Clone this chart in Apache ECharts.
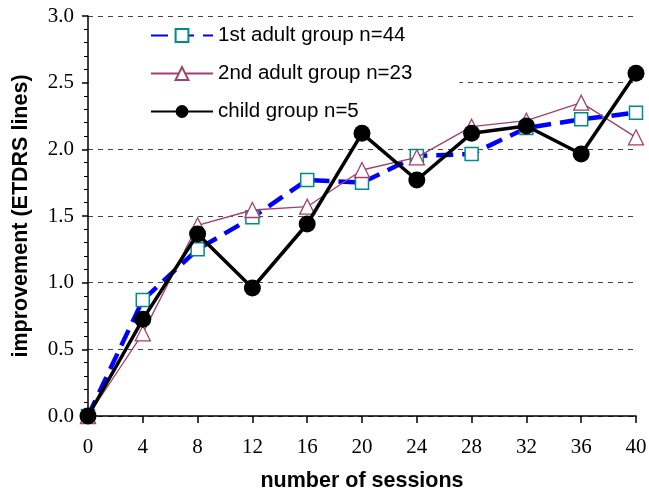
<!DOCTYPE html>
<html>
<head>
<meta charset="utf-8">
<script src="https://cdn.jsdelivr.net/npm/echarts@6/dist/echarts.min.js"></script>
<style>html,body{margin:0;padding:0;background:#fff}#c{width:649px;height:488px}</style>
</head>
<body>
<div id="c"></div>
<script>
var sessions = [0, 4, 8, 12, 16, 20, 24, 28, 32, 36, 40];
var adult1 = [0, 0.87, 1.25, 1.49, 1.77, 1.75, 1.95, 1.965, 2.16, 2.225, 2.275];
var adult2 = [0, 0.62, 1.43, 1.545, 1.57, 1.845, 1.94, 2.17, 2.215, 2.35, 2.09];
var child = [0, 0.725, 1.365, 0.96, 1.44, 2.12, 1.77, 2.12, 2.175, 1.965, 2.57];
var names = ['1st adult group n=44', '2nd adult group n=23', 'child group n=5'];

function pairs(arr) { return sessions.map(function (s, i) { return [s, arr[i]]; }); }

var chart = echarts.init(document.getElementById('c'));
chart.setOption({
  animation: false,
  backgroundColor: '#fff',
  grid: { left: 88, right: 13, top: 16, bottom: 72, containLabel: false, outerBoundsMode: 'none' },
  legend: {
    orient: 'vertical', left: 89, top: 17,
    padding: [7, 47, 8, 61],
    backgroundColor: '#fff',
    itemWidth: 62, itemHeight: 16, itemGap: 15,
    textStyle: { fontFamily: 'Liberation Sans', fontSize: 20.5, color: '#000', lineHeight: 23 },
    data: names
  },
  xAxis: {
    type: 'value', min: 0, max: 40, interval: 4,
    name: 'number of sessions', nameLocation: 'middle', nameGap: 54,
    nameTextStyle: { fontFamily: 'Liberation Sans', fontSize: 21.5, fontWeight: 'bold', color: '#000' },
    axisLine: { show: true, onZero: false, lineStyle: { color: '#000', width: 1.5 } },
    axisTick: { show: true, length: 7, lineStyle: { color: '#000', width: 1.5 } },
    axisLabel: { fontFamily: 'Liberation Serif', fontSize: 21, color: '#000', margin: 21 },
    splitLine: { show: false }
  },
  yAxis: {
    type: 'value', min: 0, max: 3, interval: 0.5,
    name: 'improvement (ETDRS lines)', nameLocation: 'middle', nameGap: 56,
    nameTextStyle: { fontFamily: 'Liberation Sans', fontSize: 21.5, fontWeight: 'bold', color: '#000' },
    axisLine: { show: true, lineStyle: { color: '#000', width: 1.5 } },
    axisTick: { show: true, length: 6, lineStyle: { color: '#000', width: 1.5 } },
    minorTick: { show: true, splitNumber: 5, length: 4, lineStyle: { color: '#000', width: 1 } },
    axisLabel: { fontFamily: 'Liberation Serif', fontSize: 21, color: '#000', margin: 14,
      formatter: function (v) { return v.toFixed(1); } },
    splitLine: { show: true, lineStyle: { color: '#444', width: 1, type: [5, 5] } }
  },
  series: [
    {
      name: names[0], type: 'line', data: pairs(adult1), z: 2,
      symbol: 'rect', symbolSize: 13,
      lineStyle: { color: '#0000ff', width: 4.5, type: [17, 9] },
      itemStyle: { color: '#fff', borderColor: '#008b8b', borderWidth: 1.5 }
    },
    {
      name: names[1], type: 'line', data: pairs(adult2), z: 3,
      symbol: 'triangle', symbolSize: 15,
      lineStyle: { color: '#a0406e', width: 1.3 },
      itemStyle: { color: '#fff', borderColor: '#a0406e', borderWidth: 1.3 }
    },
    {
      name: names[2], type: 'line', data: pairs(child), z: 4,
      symbol: 'circle', symbolSize: 17,
      lineStyle: { color: '#000', width: 3.5 },
      itemStyle: { color: '#000', borderColor: '#000', borderWidth: 0 }
    }
  ]
});
</script>
</body>
</html>
